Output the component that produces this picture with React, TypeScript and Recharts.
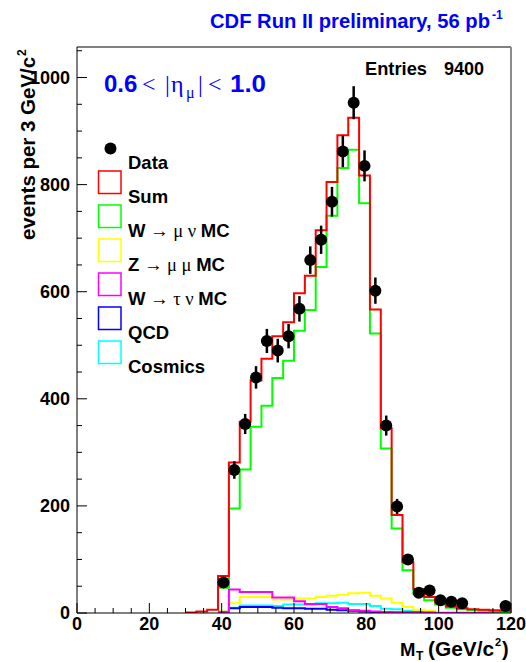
import {
  ComposedChart,
  Line,
  Scatter,
  ErrorBar,
  XAxis,
  YAxis,
  ReferenceLine,
} from "recharts";

// 3 GeV bins, lower edges (nothing below 30 GeV)
const binLow = [
  30, 33, 36, 39, 42, 45, 48, 51, 54, 57, 60, 63, 66, 69, 72, 75, 78, 81, 84,
  87, 90, 93, 96, 99, 102, 105, 108, 111, 114, 117,
];

// observed events per bin
const dataCounts = [
  0, 0, 0, 57, 267, 353, 440, 508, 490, 517, 568, 659, 697, 768, 862, 953, 835,
  602, 350, 199, 100, 38, 42, 24, 21, 18, 0, 0, 0, 13,
];

// MC histograms (same bins)
const sumMC = [
  1, 3, 6, 69, 281, 357, 434, 475, 517, 543, 597, 630, 715, 805, 892, 925, 817,
  567, 345, 183, 95, 45, 30, 20, 12, 9, 7, 6, 5, 4,
];
const wmunu = [
  null, null, null, 47, 195, 268, 348, 387, 439, 471, 527, 566, 646, 742, 831,
  865, 765, 522, 307, 158, 80, 36, 24, 16, 10, 7, 5, 4, 3, 2,
];
const zmumu = [
  null, null, null, 3, 18, 30, 30, 30, 25, 25, 27, 27, 30, 32, 34, 37, 38, 32,
  27, 19, 11, 6, 4, 2, 1, 1, 1, 0, 0, 0,
];
const wtaunu = [
  null, null, null, 2, 44, 39, 39, 39, 29, 29, 22, 17, 17, 11, 9, 5, 4, 3, 2, 1,
  1, 1, 1, 0, 0, 0, 0, 0, 0, 0,
];
const qcd = [
  null, null, null, 2, 9, 11, 11, 11, 10, 9, 9, 8, 8, 6, 5, 4, 3, 2, 2, 1, 1, 1,
  1, 1, 0, 0, 0, 0, 0, 0,
];
const cosmics = [
  null, null, null, 3, 10, 14, 14, 14, 13, 16, 16, 16, 18, 18, 19, 17, 17, 13,
  8, 7, 4, 3, 2, 1, 1, 1, 0, 0, 0, 0,
];

const xTicks = [
  0, 5, 10, 15, 20, 25, 30, 35, 40, 45, 50, 55, 60, 65, 70, 75, 80, 85, 90, 95,
  100, 105, 110, 115, 120,
];
const yTicks = [
  0, 50, 100, 150, 200, 250, 300, 350, 400, 450, 500, 550, 600, 650, 700, 750,
  800, 850, 900, 950, 1000, 1050,
];
const yMax = 1057;

const legendColors = ["#ff0000", "#00ff00", "#ffff00", "#ff00ff", "#0000ff", "#00ffff"];
// [bold text, symbol text, bold text]
const legendLabels = [
  ["Sum"],
  ["W", " \u2192 \u03bc \u03bd ", "MC"],
  ["Z", " \u2192 \u03bc \u03bc ", "MC"],
  ["W", " \u2192 \u03c4 \u03bd ", "MC"],
  ["QCD"],
  ["Cosmics"],
];

const FONT = "'Liberation Sans', Arial, Helvetica, sans-serif";
const SYM = "'Liberation Serif', 'DejaVu Serif', serif";

// step histogram rows: value at each lower edge, last value repeated at 120
const rows = binLow.map((x, i) => ({
  x,
  sum: sumMC[i],
  wmunu: wmunu[i],
  zmumu: zmumu[i],
  wtaunu: wtaunu[i],
  qcd: qcd[i],
  cosmics: cosmics[i],
}));
const last = binLow.length - 1;
rows.push({
  x: 120,
  sum: sumMC[last],
  wmunu: wmunu[last],
  zmumu: zmumu[last],
  wtaunu: wtaunu[last],
  qcd: qcd[last],
  cosmics: cosmics[last],
});

const points = binLow
  .map((x, i) => ({ x: x + 1.5, y: dataCounts[i], err: Math.sqrt(dataCounts[i]) }))
  .filter((p) => p.y > 0);

const XTick = (props: any) => {
  const { x, y, payload } = props;
  const v = payload.value;
  const major = v % 20 === 0;
  return (
    <g>
      <line x1={x} x2={x} y1={y} y2={y - (major ? 10 : 5)} stroke="#000" />
      {major && (
        <text x={x} y={y + 17} textAnchor="middle" fontSize={18} fontWeight="bold" fontFamily={FONT} fill="#000">
          {v}
        </text>
      )}
    </g>
  );
};

const YTick = (props: any) => {
  const { x, y, payload } = props;
  const v = payload.value;
  const major = v % 200 === 0;
  return (
    <g>
      <line x1={x} x2={x + (major ? 10 : 5)} y1={y} y2={y} stroke="#000" />
      {major && (
        <text x={x - 7} y={y + 6} textAnchor="end" fontSize={18} fontWeight="bold" fontFamily={FONT} fill="#000">
          {v}
        </text>
      )}
    </g>
  );
};

const series = [
  { key: "cosmics", color: "#00ffff" },
  { key: "qcd", color: "#0000ff" },
  { key: "zmumu", color: "#ffff00" },
  { key: "wtaunu", color: "#ff00ff" },
  { key: "wmunu", color: "#00ff00" },
  { key: "sum", color: "#ff0000" },
];

const Dot = (props: any) => <circle cx={props.cx} cy={props.cy} r={6} fill="#000" />;

export default function App() {
  return (
    <div style={{ position: "absolute", left: 0, top: 0, width: 526, height: 662, background: "#fff" }}>
      <ComposedChart width={526} height={662} data={rows} margin={{ top: 47, right: 15, bottom: 19, left: 37 }}>
        <XAxis
          type="number"
          dataKey="x"
          domain={[0, 120]}
          ticks={xTicks}
          interval={0}
          allowDataOverflow
          height={30}
          tickSize={0}
          tickMargin={0}
          tickLine={false}
          tick={<XTick />}
          axisLine={{ stroke: "#000" }}
        />
        <YAxis
          type="number"
          domain={[0, yMax]}
          ticks={yTicks}
          interval={0}
          allowDataOverflow
          width={40}
          tickSize={0}
          tickMargin={0}
          tickLine={false}
          tick={<YTick />}
          axisLine={{ stroke: "#000" }}
        />
        <ReferenceLine y={yMax} stroke="#000" />
        <ReferenceLine x={120} stroke="#8c8c8c" strokeWidth={2} />
        {series.map((s) => (
          <Line
            key={s.key}
            type="stepAfter"
            dataKey={s.key}
            stroke={s.color}
            strokeWidth={2}
            dot={false}
            activeDot={false}
            isAnimationActive={false}
          />
        ))}
        <Scatter data={points} dataKey="y" shape={<Dot />} isAnimationActive={false}>
          <ErrorBar dataKey="err" direction="y" width={0} stroke="#000" strokeWidth={2.5} isAnimationActive={false} />
        </Scatter>
      </ComposedChart>

      <svg width={526} height={662} style={{ position: "absolute", left: 0, top: 0, pointerEvents: "none" }}>
        {/* title */}
        <text x={210} y={28} fontSize={20} fontWeight="bold" fontFamily={FONT} fill="#0000ff" textLength={280} lengthAdjust="spacingAndGlyphs">
          CDF Run II preliminary, 56 pb
        </text>
        <text x={492} y={19} fontSize={12} fontWeight="bold" fontFamily={FONT} fill="#0000ff">
          -1
        </text>

        {/* eta cut */}
        <g fill="#0000ff">
          <text x={104} y={92} fontSize={24} fontWeight="bold" fontFamily={FONT}>0.6</text>
          <text x={142} y={92} fontSize={24} fontFamily={SYM}>&lt;</text>
          <text x={165} y={92} fontSize={24} fontFamily={SYM}>|</text>
          <text x={171} y={92} fontSize={24} fontFamily={SYM}>{"\u03b7"}</text>
          <text x={186} y={98} fontSize={16} fontFamily={SYM}>{"\u03bc"}</text>
          <text x={198} y={92} fontSize={24} fontFamily={SYM}>|</text>
          <text x={208} y={92} fontSize={24} fontFamily={SYM}>&lt;</text>
          <text x={230} y={92} fontSize={24} fontWeight="bold" fontFamily={FONT} textLength={36} lengthAdjust="spacingAndGlyphs">1.0</text>
        </g>

        {/* stats */}
        <text x={365} y={75} fontSize={18} fontWeight="bold" fontFamily={FONT} textLength={62} lengthAdjust="spacingAndGlyphs">Entries</text>
        <text x={444} y={75} fontSize={18} fontWeight="bold" fontFamily={FONT}>9400</text>

        {/* legend */}
        <circle cx={110.5} cy={148.5} r={6} fill="#000" />
        <text x={128} y={169} fontSize={18.5} fontWeight="bold" fontFamily={FONT}>Data</text>
        {legendLabels.map((parts, i) => (
          <g key={i}>
            <rect x={98.5} y={171 + i * 34} width={22.5} height={22.5} fill="none" stroke={legendColors[i]} strokeWidth={1.5} />
            <text x={128} y={202.5 + i * 34} fontSize={18.5} fontWeight="bold" fontFamily={FONT}>
              {parts.map((p, j) =>
                j % 2 === 1 ? (
                  <tspan key={j} fontFamily={SYM} fontWeight="normal">{p}</tspan>
                ) : (
                  <tspan key={j}>{p}</tspan>
                )
              )}
            </text>
          </g>
        ))}

        {/* y title */}
        <g transform="translate(35,240) rotate(-90)">
          <text x={0} y={0} fontSize={20} fontWeight="bold" fontFamily={FONT} textLength={183} lengthAdjust="spacingAndGlyphs">
            events per 3 GeV/c
          </text>
          <text x={184} y={-9} fontSize={12} fontWeight="bold" fontFamily={FONT}>2</text>
        </g>

        {/* x title */}
        <text x={400} y={656} fontSize={18.5} fontWeight="bold" fontFamily={FONT}>M</text>
        <text x={416} y={660} fontSize={12} fontWeight="bold" fontFamily={FONT}>T</text>
        <text x={428} y={656} fontSize={20} fontWeight="bold" fontFamily={FONT} textLength={66} lengthAdjust="spacingAndGlyphs">(GeV/c</text>
        <text x={495} y={646} fontSize={11} fontWeight="bold" fontFamily={FONT}>2</text>
        <text x={502} y={656} fontSize={20} fontWeight="bold" fontFamily={FONT}>)</text>
      </svg>
    </div>
  );
}
